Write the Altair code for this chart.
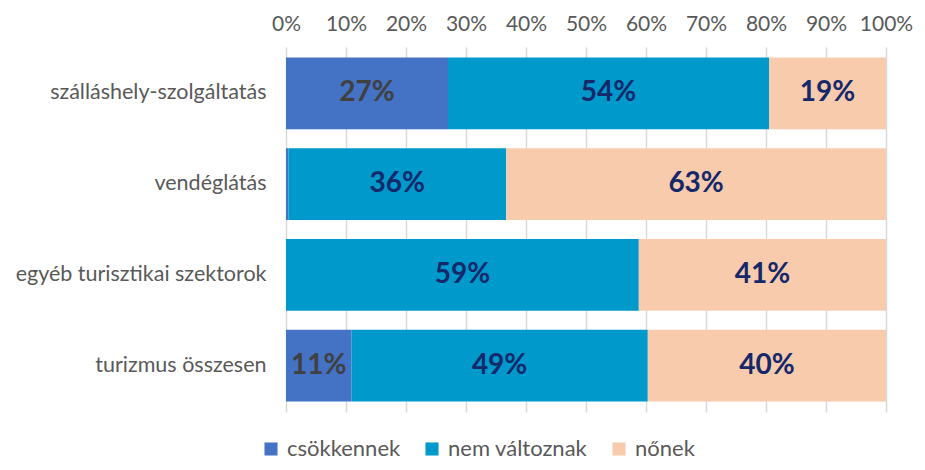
import altair as alt
import pandas as pd

categories = ["szálláshely-szolgáltatás", "vendéglátás", "egyéb turisztikai szektorok", "turizmus összesen"]
series = ["csökkennek", "nem változnak", "nőnek"]
csokkennek = [0.27, 0.004, 0.0, 0.109]
nem_valtoznak = [0.535, 0.363, 0.588, 0.494]
nonek = [0.195, 0.633, 0.412, 0.397]
lbl_csokkennek = ["27%", "", "", "11%"]
lbl_nem = ["54%", "36%", "59%", "49%"]
lbl_nonek = ["19%", "63%", "41%", "40%"]
colors = ["#4472C4", "#0099CC", "#F8CBAD"]
label_colors = ["#404040", "#14286A", "#14286A"]

rows = []
for vals, lbls, s, o in [(csokkennek, lbl_csokkennek, series[0], 0),
                         (nem_valtoznak, lbl_nem, series[1], 1),
                         (nonek, lbl_nonek, series[2], 2)]:
    for c, v, l in zip(categories, vals, lbls):
        rows.append({"cat": c, "series": s, "ord": o, "value": v, "label": l})
df = pd.DataFrame(rows)

FONT = "Lato"

base = alt.Chart(df).transform_stack(
    stack="value", groupby=["cat"], as_=["x0", "x1"], sort=[alt.SortField("ord")]
)

y = alt.Y("cat:N", sort=categories, title=None,
          scale=alt.Scale(paddingInner=0.21, paddingOuter=0.115),
          axis=alt.Axis(labelFont=FONT, labelFontSize=21.5, labelColor="#595959",
                        labelPadding=20, labelLimit=400, ticks=False, domain=False, grid=False))

bars = base.mark_bar().encode(
    x=alt.X("x0:Q", scale=alt.Scale(domain=[0, 1]), title=None,
            axis=alt.Axis(orient="top", format=".0%", values=[i / 10 for i in range(11)],
                          labelFont=FONT, labelFontSize=21, labelColor="#595959",
                          labelOverlap=False, labelFlush=False, labelBaseline="alphabetic",
                          labelPadding=17, ticks=False, domain=False,
                          grid=True, gridColor="#D9D9D9", gridWidth=1.5)),
    x2="x1:Q",
    y=y,
    color=alt.Color("series:N", sort=series,
                    scale=alt.Scale(domain=series, range=colors),
                    legend=alt.Legend(title=None, orient="none", direction="horizontal",
                                      legendX=-26, legendY=391,
                                      symbolType="square", symbolSize=170,
                                      symbolStrokeWidth=0,
                                      labelFont=FONT, labelFontSize=22, labelColor="#595959",
                                      columnPadding=20, labelOffset=5, labelLimit=300)),
)

texts = base.transform_calculate(mid="(datum.x0 + datum.x1) / 2").mark_text(
    font=FONT, fontSize=28, fontWeight="bold"
).encode(
    x="mid:Q",
    y=alt.Y("cat:N", sort=categories),
    text="label:N",
    color=alt.Color("series:N", scale=alt.Scale(domain=series, range=label_colors), legend=None),
)

chart = alt.layer(bars, texts).resolve_scale(color="independent").properties(
    width=600, height=365,
    padding={"left": 278, "top": 39, "right": 27, "bottom": 48},
    autosize="none",
).configure_view(stroke=None)

chart.save("out.html", embed_options={"renderer": "svg", "actions": False})
